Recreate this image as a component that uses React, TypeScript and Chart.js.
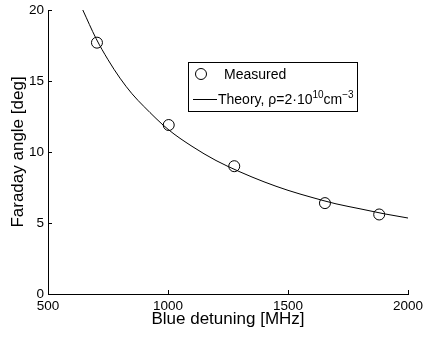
import React, { useEffect, useRef } from "react";
import { Chart, registerables } from "chart.js";
Chart.register(...registerables);

const measuredX = [704, 1003, 1276, 1654, 1880];
const measuredY = [17.7, 11.9, 9.0, 6.4, 5.6];
const theoryX = [645, 700, 750, 800, 850, 900, 1000, 1100, 1200, 1300, 1400, 1500, 1600, 1700, 1800, 1900, 2000];
const theoryY = [20.0, 18.0, 16.5, 15.2, 14.1, 13.2, 11.6, 10.4, 9.4, 8.6, 7.9, 7.3, 6.8, 6.35, 6.0, 5.65, 5.35];
const xTicks = [500, 1000, 1500, 2000];
const yTicks = [0, 5, 10, 15, 20];
const xTitle = "Blue detuning [MHz]";
const yTitle = "Faraday angle [deg]";
const legendMeasured = "Measured";
const legendTheory = "Theory, \u03c1=2\u00b710";
const legendSup1 = "10";
const legendUnit = "cm";
const legendSup2 = "\u22123";

const FONT = '"Liberation Sans", Arial, Helvetica, sans-serif';

const decorPlugin = {
  id: "decor",
  beforeDraw(chart: any) {
    const ctx = chart.ctx;
    ctx.save();
    ctx.fillStyle = "#ffffff";
    ctx.fillRect(0, 0, chart.width, chart.height);
    ctx.restore();
  },
  afterDraw(chart: any) {
    const ctx = chart.ctx;
    const ca = chart.chartArea;
    const xs = chart.scales.x;
    const ys = chart.scales.y;
    ctx.save();
    ctx.strokeStyle = "#000";
    ctx.lineWidth = 1;
    // inward ticks
    ctx.beginPath();
    xTicks.forEach((v) => {
      const px = Math.round(xs.getPixelForValue(v)) + 0.5;
      ctx.moveTo(px, ca.bottom);
      ctx.lineTo(px, ca.bottom - 4);
    });
    yTicks.forEach((v) => {
      const py = Math.round(ys.getPixelForValue(v)) + 0.5;
      ctx.moveTo(ca.left, py);
      ctx.lineTo(ca.left + 4, py);
    });
    ctx.stroke();

    // axis titles
    ctx.fillStyle = "#000";
    ctx.font = `17px ${FONT}`;
    ctx.textAlign = "center";
    ctx.textBaseline = "alphabetic";
    ctx.fillText(xTitle, (ca.left + ca.right) / 2, 324);
    ctx.save();
    ctx.translate(23, (ca.top + ca.bottom) / 2);
    ctx.rotate(-Math.PI / 2);
    ctx.fillText(yTitle, 0, 0);
    ctx.restore();

    // legend
    const bx = 188.5, by = 62.5, bw = 169, bh = 49;
    ctx.fillStyle = "#fff";
    ctx.fillRect(bx, by, bw, bh);
    ctx.strokeStyle = "#000";
    ctx.strokeRect(bx, by, bw, bh);
    ctx.beginPath();
    ctx.arc(201, 74, 5.5, 0, Math.PI * 2);
    ctx.stroke();
    ctx.beginPath();
    ctx.moveTo(193, 99.5);
    ctx.lineTo(217, 99.5);
    ctx.stroke();
    ctx.fillStyle = "#000";
    ctx.textAlign = "left";
    ctx.textBaseline = "alphabetic";
    ctx.font = `14px ${FONT}`;
    ctx.fillText(legendMeasured, 224, 79);
    let x = 218;
    const base = 104;
    ctx.fillText(legendTheory, x, base);
    x += ctx.measureText(legendTheory).width;
    ctx.font = `10px ${FONT}`;
    ctx.fillText(legendSup1, x, base - 6);
    x += ctx.measureText(legendSup1).width;
    ctx.font = `14px ${FONT}`;
    ctx.fillText(legendUnit, x, base);
    x += ctx.measureText(legendUnit).width;
    ctx.font = `10px ${FONT}`;
    ctx.fillText(legendSup2, x, base - 6);
    ctx.restore();
  },
};

export default function App() {
  const ref = useRef<HTMLCanvasElement | null>(null);
  useEffect(() => {
    document.body.style.margin = "0";
    const canvas = ref.current!;
    const chart = new Chart(canvas, {
      type: "scatter",
      data: {
        datasets: [
          {
            label: "Theory",
            data: theoryX.map((x, i) => ({ x, y: theoryY[i] })),
            showLine: true,
            borderColor: "#000",
            borderWidth: 1,
            pointRadius: 0,
            cubicInterpolationMode: "monotone",
            fill: false,
          },
          {
            label: "Measured",
            data: measuredX.map((x, i) => ({ x, y: measuredY[i] })),
            showLine: false,
            borderColor: "#000",
            backgroundColor: "rgba(0,0,0,0)",
            borderWidth: 1,
            pointRadius: 5.5,
            pointStyle: "circle",
          },
        ],
      },
      options: {
        animation: false,
        responsive: false,
        layout: { padding: { top: 10, right: 15, left: 0, bottom: 0 } },
        plugins: { legend: { display: false }, tooltip: { enabled: false } },
        scales: {
          x: {
            type: "linear",
            min: 500,
            max: 2000,
            afterBuildTicks: (s: any) => {
              s.ticks = xTicks.map((v) => ({ value: v }));
            },
            afterFit: (s: any) => {
              s.height = 43;
              s.paddingLeft = 0;
              s.paddingRight = 0;
            },
            grid: { display: false, drawTicks: false },
            border: { display: true, color: "#000", width: 1 },
            ticks: {
              color: "#000",
              font: { family: FONT, size: 13.5 },
              padding: 4,
              maxRotation: 0,
              autoSkip: false,
              callback: (v: any) => String(v),
            },
          },
          y: {
            type: "linear",
            min: 0,
            max: 20,
            afterBuildTicks: (s: any) => {
              s.ticks = yTicks.map((v) => ({ value: v }));
            },
            afterFit: (s: any) => {
              s.width = 48;
              s.paddingTop = 0;
              s.paddingBottom = 0;
            },
            grid: { display: false, drawTicks: false },
            border: { display: true, color: "#000", width: 1 },
            ticks: {
              color: "#000",
              font: { family: FONT, size: 13.5 },
              padding: 4,
              autoSkip: false,
              callback: (v: any) => String(v),
            },
          },
        },
      },
      plugins: [decorPlugin],
    });
    return () => chart.destroy();
  }, []);
  return (
    <div style={{ position: "absolute", left: 0, top: 0, width: 423, height: 337 }}>
      <canvas ref={ref} width={423} height={337} style={{ display: "block" }} />
    </div>
  );
}
